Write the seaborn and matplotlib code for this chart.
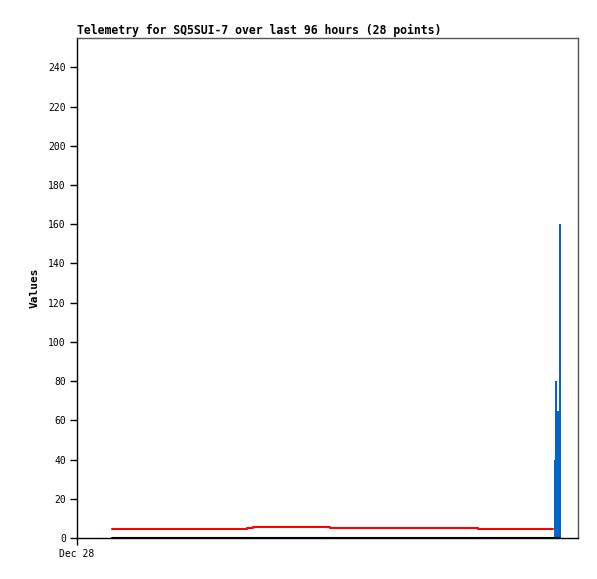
import matplotlib
matplotlib.use("Agg")
import matplotlib.pyplot as plt
import seaborn as sns
import pandas as pd
import numpy as np

# ---- data (hours since Dec 28 00:00) ----
red_hours = [6.7, 32.6, 33.7, 48.5, 76.8, 91.2]
red_values = [4.7, 5.2, 5.7, 5.2, 4.7, 4.7]

black_hours = [6.7, 92.5]
black_values = [0, 0]

bar_hours = [91.5, 91.8, 92.1, 92.55]
bar_values = [40, 80, 65, 160]
bar_edges = [91.4, 91.6, 91.92, 92.35, 92.75]

x_tick_pos = [0]
x_tick_labels = ["Dec 28"]
y_ticks = list(range(0, 241, 20))

title = "Telemetry for SQ5SUI-7 over last 96 hours (28 points)"
ylabel = "Values"

sns.set_style("white")
plt.rcParams['font.family'] = ['DejaVu Sans Mono']
plt.rcParams['text.color'] = 'black'
plt.rcParams['axes.labelcolor'] = 'black'
plt.rcParams['xtick.color'] = 'black'
plt.rcParams['ytick.color'] = 'black'

fig = plt.figure(figsize=(5.97, 5.79), dpi=100)
ax = fig.add_axes([77/597, 1-538/579, (578-77)/597, (538-38)/579])

bars_df = pd.DataFrame({"hour": bar_hours, "value": bar_values})
sns.histplot(data=bars_df, x="hour", weights="value", bins=bar_edges,
             color="#0066cc", alpha=1, edgecolor="none", linewidth=0, ax=ax)

black_df = pd.DataFrame({"hour": black_hours, "value": black_values})
sns.lineplot(data=black_df, x="hour", y="value", color="black", linewidth=1.5, ax=ax, zorder=3)

red_df = pd.DataFrame({"hour": red_hours, "value": red_values})
sns.lineplot(data=red_df, x="hour", y="value", color="#ff0000", linewidth=1.5,
             drawstyle="steps-post", ax=ax, zorder=4)

ax.set_xlim(0, 96)
ax.set_ylim(0, 255)
ax.set_yticks(y_ticks)
ax.set_yticklabels([str(v) for v in y_ticks], fontsize=7, color='black')
ax.set_xticks(x_tick_pos)
ax.set_xticklabels(x_tick_labels, fontsize=7, color='black')
ax.tick_params(axis='both', direction='out', length=5, width=1, color='black',
               left=True, bottom=True, pad=3)

ax.set_xlabel("")
ax.set_ylabel(ylabel, fontsize=8, fontweight='bold', labelpad=6, color='black')
ax.set_title(title, loc='left', fontsize=8.3, fontweight='bold', pad=3, color='black')

for s in ['left', 'bottom']:
    ax.spines[s].set_color('black')
    ax.spines[s].set_linewidth(1)
for s in ['top', 'right']:
    ax.spines[s].set_color('#555555')
    ax.spines[s].set_linewidth(1)
ax.grid(False)

fig.savefig("out.png", dpi=100)
